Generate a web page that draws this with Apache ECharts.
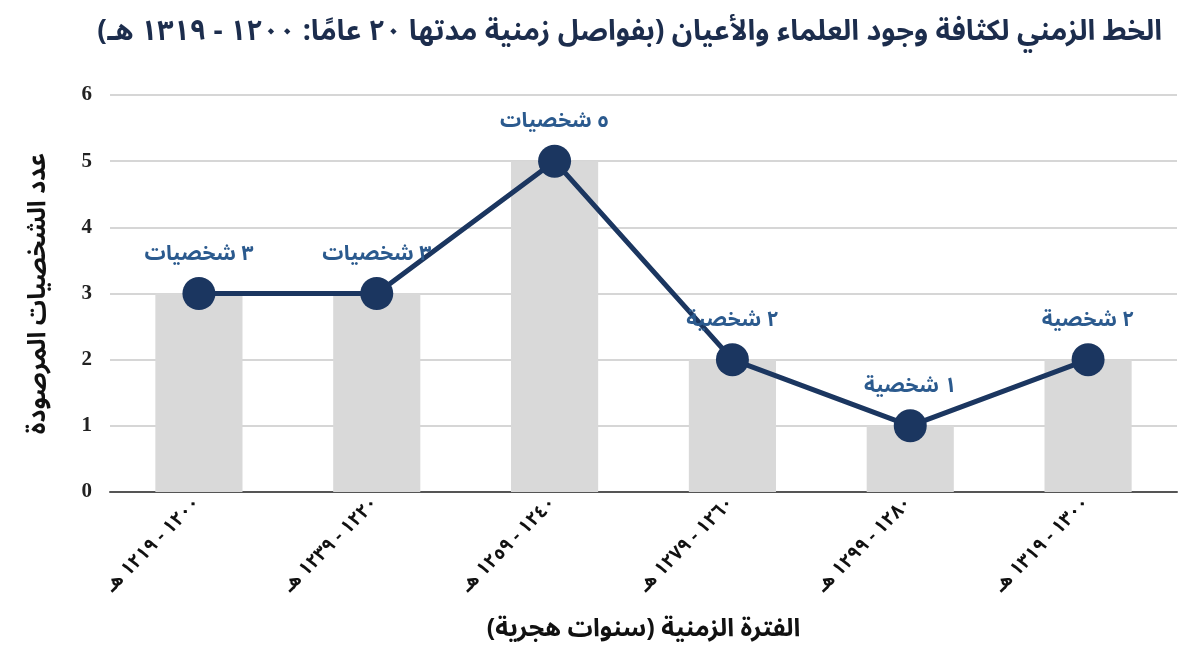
<!DOCTYPE html>
<html dir="rtl">
<head>
<meta charset="utf-8">
<script src="https://cdn.jsdelivr.net/npm/echarts@6/dist/echarts.min.js"></script>
<style>
html,body{margin:0;padding:0;background:#fff;}
#chart{width:1200px;height:655px;}
</style>
</head>
<body>
<div id="chart"></div>
<script>
const categories = ['١٢٠٠ - ١٢١٩ هـ','١٢٢٠ - ١٢٣٩ هـ','١٢٤٠ - ١٢٥٩ هـ','١٢٦٠ - ١٢٧٩ هـ','١٢٨٠ - ١٢٩٩ هـ','١٣٠٠ - ١٣١٩ هـ'];
const counts = [3, 3, 5, 2, 1, 2];
const pointLabels = ['٣ شخصيات','٣ شخصيات','٥ شخصيات','٢ شخصية','١ شخصية','٢ شخصية'];
const yTicks = ['0','1','2','3','4','5','6'];
const titleText = 'الخط الزمني لكثافة وجود العلماء والأعيان (بفواصل زمنية مدتها ٢٠ عامًا: ١٢٠٠ - ١٣١٩ هـ)';
const xName = 'الفترة الزمنية (سنوات هجرية)';
const yName = 'عدد الشخصيات المرصودة';

const AR = "'Noto Sans Arabic','Noto Naskh Arabic','DejaVu Sans',sans-serif";
const chart = echarts.init(document.getElementById('chart'), null, {renderer:'canvas'});
chart.setOption({
  animation:false,
  backgroundColor:'#ffffff',
  title:{
    text:titleText,
    right:33, top:16,
    textStyle:{fontFamily:AR, fontSize:28.5, fontWeight:'bold', color:'#1c2d4d'}
  },
  grid:{left:110, right:23, top:95, bottom:163},
  xAxis:{
    type:'category',
    data:categories,
    name:xName,
    nameLocation:'middle',
    nameGap:128,
    nameTextStyle:{fontFamily:AR, fontSize:25, fontWeight:'bold', color:'#111'},
    axisLine:{lineStyle:{color:'#555', width:2}},
    axisTick:{show:false},
    axisLabel:{rotate:45, interval:0, margin:10, fontFamily:AR, fontSize:19, fontWeight:'bold', color:'#111'}
  },
  yAxis:{
    type:'value',
    min:0, max:6, interval:1,
    name:yName,
    nameLocation:'middle',
    nameGap:56,
    nameTextStyle:{fontFamily:AR, fontSize:25, fontWeight:'bold', color:'#111'},
    axisLine:{show:false},
    axisTick:{show:false},
    splitLine:{lineStyle:{color:'#c8c8c8', width:1.5}},
    axisLabel:{margin:18, fontFamily:"'Liberation Serif',serif", fontSize:21, fontWeight:'bold', color:'#222',
      formatter:function(v){return yTicks[v];}}
  },
  series:[
    {
      type:'bar',
      data:counts,
      barWidth:'49%',
      itemStyle:{color:'#d9d9d9'},
      silent:true,
      z:1
    },
    {
      type:'line',
      data:counts,
      symbol:'circle',
      symbolSize:33,
      lineStyle:{color:'#1b3660', width:5},
      itemStyle:{color:'#1b3660'},
      label:{
        show:true,
        position:'top',
        distance:10,
        fontFamily:AR, fontSize:21, fontWeight:'bold', color:'#2b5a8e',
        formatter:function(p){return pointLabels[p.dataIndex];}
      },
      z:3
    }
  ]
});
</script>
</body>
</html>
